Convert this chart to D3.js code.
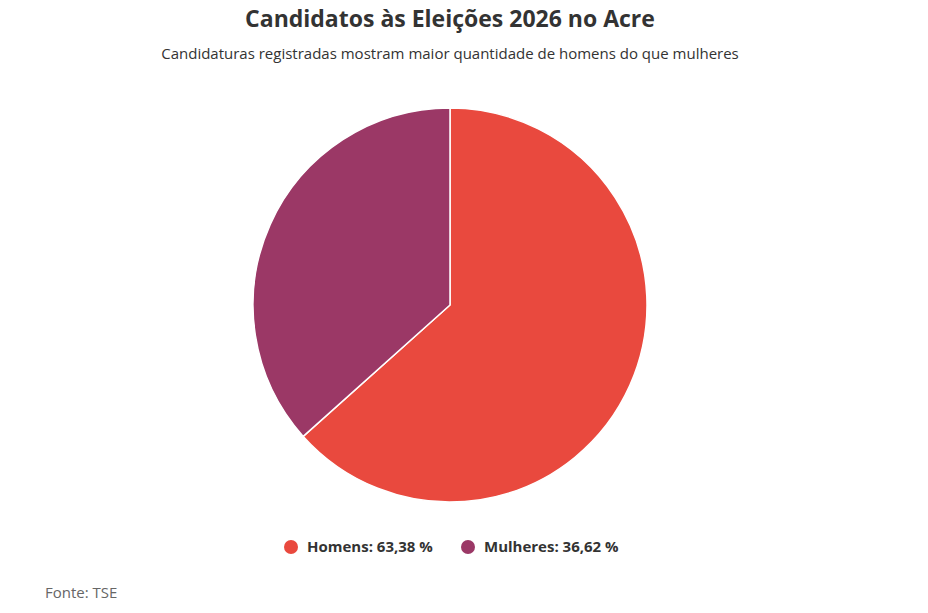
<!DOCTYPE html>
<html>
<head>
<meta charset="utf-8">
<script src="https://cdn.jsdelivr.net/npm/d3@7"></script>
<style>
    body { margin: 0; background: #fff; font-family: "Open Sans", sans-serif; }
</style>
</head>
<body>
<div id="chart"></div>
<script>
//
// pie chart - candidatos Acre 2026
//

var categories = ['Homens', 'Mulheres'];
var values = [63.38, 36.62];
var labels = ['Homens: 63,38 %', 'Mulheres: 36,62 %'];
var colors = ['#E9493E', '#9B3866'];

var width = 928;
var height = 613;
var cx = 450;
var cy = 305;
var radius = 197;

var data = [];
for (i = 0; i < categories.length; i++) {
    data.push({ 'name': categories[i], 'value': values[i], 'label': labels[i] });
}

var svg = d3.select("#chart")
    .append("svg")
    .attr("width", width)
    .attr("height", height);

// title
svg.append("text")
    .attr("x", 450)
    .attr("y", 27)
    .style("text-anchor", "middle")
    .style("font-size", "23px")
    .attr("font-weight", "bold")
    .attr("fill", "#333333")
    .text("Candidatos às Eleições 2026 no Acre");

svg.append("text")
    .attr("x", 450)
    .attr("y", 59)
    .style("text-anchor", "middle")
    .style("font-size", "15px")
    .attr("fill", "#333333")
    .text("Candidaturas registradas mostram maior quantidade de homens do que mulheres");

var color = d3.scaleOrdinal()
    .domain(categories)
    .range(colors);

var pie = d3.pie()
    .sort(null)
    .value(function (d) { return d.value; });

var arc = d3.arc()
    .innerRadius(0)
    .outerRadius(radius);

svg.append("g")
    .attr("transform", "translate(" + cx + "," + cy + ")")
    .selectAll("path")
    .data(pie(data))
    .enter()
    .append("path")
    .attr("d", arc)
    .attr("fill", function (d) { return color(d.data.name); })
    .attr("stroke", "#ffffff")
    .attr("stroke-width", 1.5)
    .attr("stroke-linejoin", "round");

// legend
var legendX = [291, 468];
var legend = svg.selectAll("legend")
    .data(data)
    .enter()
    .append("g")
    .attr("transform", function (d, idx) { return "translate(" + legendX[idx] + ",547)"; });

legend.append("circle")
    .attr("r", 7)
    .attr("fill", function (d) { return color(d.name); });

legend.append("text")
    .attr("x", 16)
    .attr("dy", ".35em")
    .style("font-size", "15px")
    .attr("font-weight", "bold")
    .attr("fill", "#333333")
    .text(function (d) { return d.label; });

svg.append("text")
    .attr("x", 45)
    .attr("y", 598)
    .style("font-size", "15px")
    .attr("fill", "#666666")
    .text("Fonte: TSE");
</script>
</body>
</html>
